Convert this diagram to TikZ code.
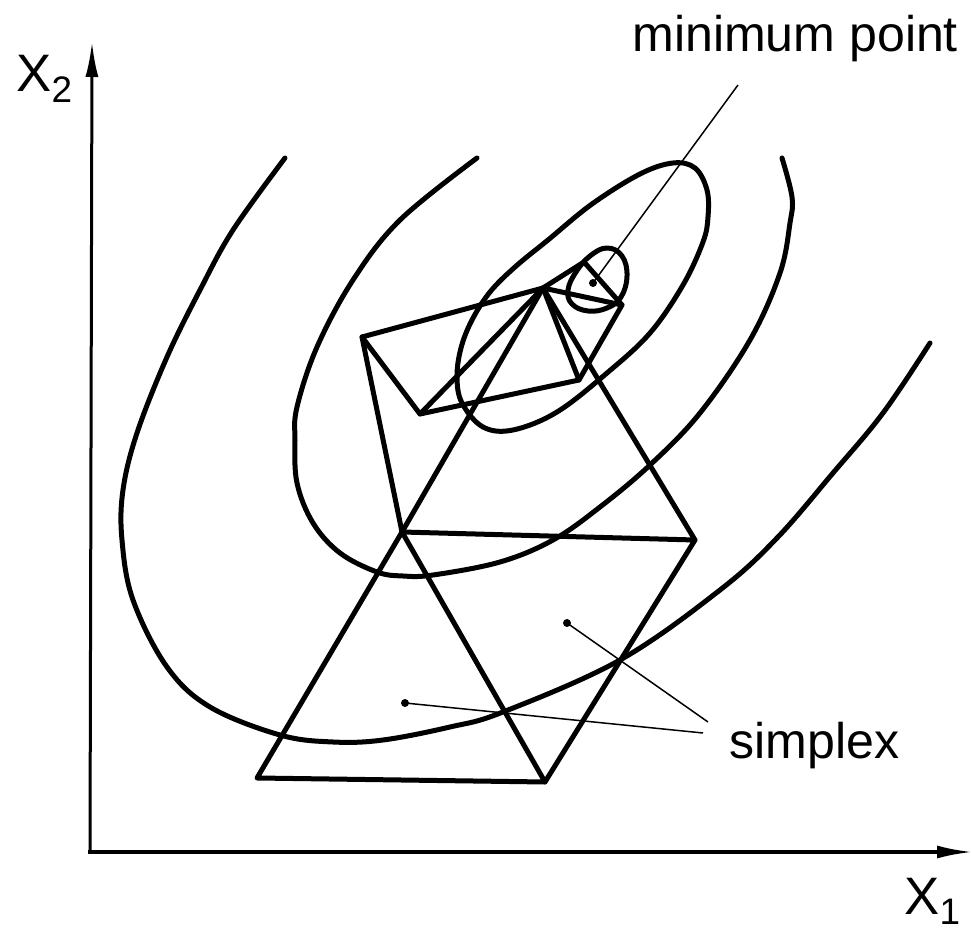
\documentclass[tikz,border=0pt]{standalone}
\usepackage{fontspec}
\setmainfont{Liberation Sans}
\usepackage{tikz}
\usetikzlibrary{arrows.meta}
\tikzset{
  contour/.style={line width=1mm,line cap=round,line join=round},
  edge/.style={line width=1mm,line join=round,line cap=round},
  leader/.style={line width=0.3mm},
  axis/.style={line width=0.6mm,-{Latex[length=7mm,width=2.6mm]}},
  lbl/.style={font=\fontsize{28.5}{30}\selectfont,inner sep=0pt,anchor=base west},
  dotpt/.style={circle,fill,inner sep=0pt,minimum size=1.6mm}
}

\begin{document}
\begin{tikzpicture}[x=0.2mm,y=-0.2mm]
  \useasboundingbox (0,0) rectangle (972,934);
  \coordinate (origin) at (90,853);
  \coordinate (xtip) at (972,852);
  \coordinate (ytip) at (92,42);
  \draw[axis] (origin) -- (ytip);
  \draw[axis] (88,852) -- (xtip);
  \node[lbl,font=\fontsize{30}{32}\selectfont] (xtwo) at (16,92) {X\textsubscript{2}};
  \node[lbl,font=\fontsize{30}{32}\selectfont] (xone) at (904,914) {X\textsubscript{1}};

  \draw[contour] plot[smooth,tension=0.6] coordinates {(285,158) (233,230) (200,290) (167,357)
    (137,433) (123,490) (122,540) (133,600) (167,667) (210,707) (280,735) (333,742)
    (383,740) (450,727) (503,712) (620,660) (720,590) (777,538) (833,473) (883,413) (930,343)};
  \draw[contour] plot[smooth,tension=0.6] coordinates {(477,158) (400,220) (353,280) (317,347)
    (297,407) (295,440) (297,483) (313,523) (340,553) (377,572) (403,576) (433,575)
    (500,562) (553,540) (600,507) (650,465) (700,413) (750,340) (780,273) (790,223)
    (792,197) (782,158)};
  \draw[contour] plot[smooth cycle,tension=0.6] coordinates {(673,163) (695,168) (707,190)
    (708,217) (703,242) (683,285) (650,333) (607,373) (557,412) (513,430) (483,427)
    (462,403) (457,377) (461,348) (472,320) (490,292) (515,267) (548,240) (592,204) (640,174)};
  \draw[contour] plot[smooth cycle,tension=0.7] coordinates {(607,248) (622,256) (627,276)
    (621,297) (607,308) (588,311) (572,304) (568,290) (576,272) (590,256)};

  \coordinate (a) at (257,778);
  \coordinate (b) at (545,782);
  \coordinate (c) at (402,532);
  \coordinate (d) at (695,540);
  \coordinate (e) at (543,288);
  \coordinate (f) at (362,337);
  \coordinate (g) at (420,414);
  \coordinate (h) at (579,380);
  \coordinate (i) at (622,305);
  \coordinate (j) at (584,262);
  \draw[edge] (a) -- (b) -- (c) -- cycle;
  \draw[edge] (b) -- (d) -- (c);
  \draw[edge] (c) -- (e) -- (d);
  \draw[edge] (c) -- (f) -- (e);
  \draw[edge] (f) -- (g) -- (e);
  \draw[edge] (g) -- (h) -- (e);
  \draw[edge] (h) -- (i) -- (e);
  \draw[edge] (i) -- (j) -- (e);

  \node[dotpt] (mindot) at (593,283) {};
  \node[dotpt] (lowdot) at (405,703) {};
  \node[dotpt] (highdot) at (567,623) {};
  \node[lbl] (minlbl) at (632,52) {minimum point};
  \node[lbl] (simlbl) at (729,759) {simplex};
  \coordinate (minend) at (738,85);
  \coordinate (lowend) at (703,733);
  \coordinate (highend) at (708,722);
  \draw[leader] (mindot.center) -- (minend);
  \draw[leader] (lowdot.center) -- (lowend);
  \draw[leader] (highdot.center) -- (highend);
\end{tikzpicture}
\end{document}
